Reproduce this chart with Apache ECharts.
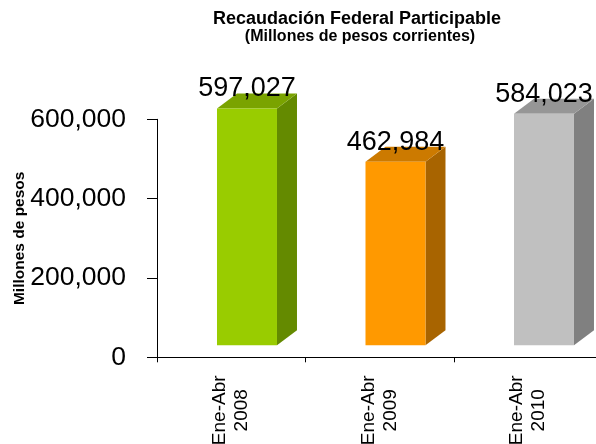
<!DOCTYPE html>
<html>
<head>
<meta charset="utf-8">
<style>
  html, body { margin: 0; padding: 0; background: #fff; }
  #chart { width: 596px; height: 444px; }
</style>
<script src="https://cdn.jsdelivr.net/npm/echarts@6/dist/echarts.min.js"></script>
</head>
<body>
<div id="chart"></div>
<script>
const categories = ['Ene-Abr\n2008', 'Ene-Abr\n2009', 'Ene-Abr\n2010']
const values = [597027, 462984, 584023]
const yTicks = [0, 200000, 400000, 600000]

// caras del prisma: frente, tapa, lateral
const palette = [
  { front: '#99cc00', top: '#7aa300', side: '#648a00' },
  { front: '#ff9900', top: '#cc7a00', side: '#a86400' },
  { front: '#c0c0c0', top: '#969696', side: '#808080' }
]

const FONT = '"Liberation Sans", Arial, sans-serif'
const fmt = (v) => v.toLocaleString('en-US')

const chart = echarts.init(document.getElementById('chart'))

const renderBar = (params, api) => {
  const idx = api.value(0)
  const val = api.value(1)
  const base = api.coord([idx, 0])
  const top = api.coord([idx, val])
  const w = api.size([1, 0])[0]
  const start = base[0] - w / 2
  const lift = 12      // el frente queda algo por encima del eje
  const dx = 20, dy = -15
  const x0 = start + w * 0.404
  const x1 = start + w * 0.808
  const yb = base[1] - lift
  const yt = top[1] - lift
  const c = palette[idx]
  return {
    type: 'group',
    children: [
      { type: 'polygon', shape: { points: [[x1, yb], [x1 + dx, yb + dy], [x1 + dx, yt + dy], [x1, yt]] }, style: { fill: c.side } },
      { type: 'polygon', shape: { points: [[x0, yt], [x0 + dx, yt + dy], [x1 + dx, yt + dy], [x1, yt]] }, style: { fill: c.top } },
      { type: 'rect', shape: { x: x0, y: yt, width: x1 - x0, height: yb - yt }, style: { fill: c.front } },
      {
        type: 'text',
        x: (x0 + x1) / 2,
        y: yt - 6,
        style: { text: fmt(val), fill: '#000', font: '27px ' + FONT, textAlign: 'center', textVerticalAlign: 'bottom' }
      }
    ]
  }
}

const option = {
  animation: false,
  graphic: [
    { type: 'text', x: 357, y: 19, style: { text: 'Recaudación Federal Participable', font: 'bold 18px ' + FONT, fill: '#000', textAlign: 'center', textVerticalAlign: 'middle' } },
    { type: 'text', x: 360, y: 37, style: { text: '(Millones de pesos corrientes)', font: 'bold 16px ' + FONT, fill: '#000', textAlign: 'center', textVerticalAlign: 'middle' } }
  ],
  grid: { left: 157, top: 119.3, width: 445.5, height: 238, containLabel: false, outerBoundsMode: 'none' },
  xAxis: {
    type: 'category',
    data: categories,
    axisLine: { lineStyle: { color: '#000', width: 1 } },
    axisTick: { show: true, length: 5, lineStyle: { color: '#000' } },
    axisLabel: {
      rotate: 90,
      align: 'center',
      verticalAlign: 'middle',
      margin: 53,
      fontSize: 19,
      lineHeight: 22,
      fontFamily: FONT,
      color: '#000'
    }
  },
  yAxis: {
    type: 'value',
    min: 0,
    max: 600000,
    interval: 200000,
    name: 'Millones de pesos',
    nameLocation: 'middle',
    nameGap: 129,
    nameMoveOverlap: false,
    nameTextStyle: { fontSize: 15.5, fontWeight: 'bold', fontFamily: FONT, color: '#000' },
    axisLine: { show: true, lineStyle: { color: '#000', width: 1 } },
    axisTick: { show: true, length: 10, lineStyle: { color: '#000' } },
    axisLabel: {
      margin: 31,
      fontSize: 26.5,
      fontFamily: FONT,
      color: '#000',
      formatter: (v) => yTicks.includes(v) ? fmt(v) : ''
    },
    splitLine: { show: false }
  },
  series: [{
    type: 'custom',
    renderItem: renderBar,
    clip: false,
    data: values.map((v, i) => [i, v])
  }]
}

chart.setOption(option)
</script>
</body>
</html>
